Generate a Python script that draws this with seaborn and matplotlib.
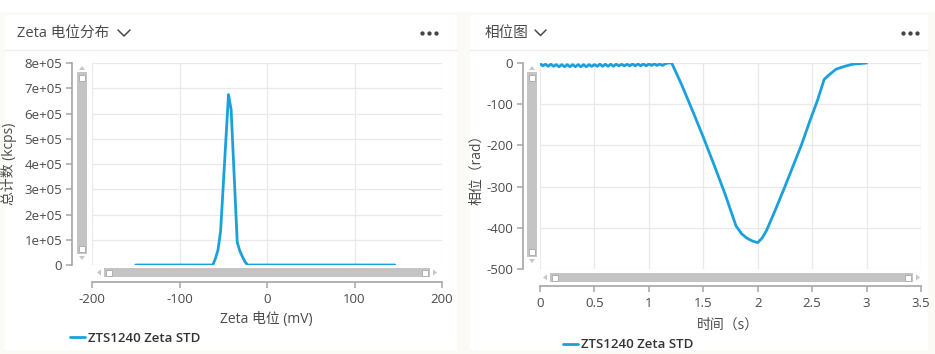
import matplotlib.pyplot as plt
import seaborn as sns
import matplotlib as mpl
from matplotlib.patches import Rectangle, Polygon
from matplotlib.lines import Line2D

# --- data ---
zeta_mv = [-150, -62, -59, -56, -53, -44, -41, -34, -31, -28, -25, -22, 146]
zeta_counts = [0, 0, 2.5e4, 6e4, 1.35e5, 6.75e5, 6.15e5, 9e4, 5.5e4, 3.2e4, 1.2e4, 0, 0]
zeta_xticks = [-200, -100, 0, 100, 200]
zeta_yticks = [0, 1e5, 2e5, 3e5, 4e5, 5e5, 6e5, 7e5, 8e5]
zeta_ylabels = ["0", "1e+05", "2e+05", "3e+05", "4e+05", "5e+05", "6e+05", "7e+05", "8e+05"]

phase_time = [0.0, 0.025, 0.05, 0.075, 0.1, 0.125, 0.15, 0.175, 0.2, 0.225,
              0.25, 0.275, 0.3, 0.325, 0.35, 0.375, 0.4, 0.425, 0.45, 0.475,
              0.5, 0.525, 0.55, 0.575, 0.6, 0.625, 0.65, 0.675, 0.7, 0.725,
              0.75, 0.775, 0.8, 0.825, 0.85, 0.875, 0.9, 0.925, 0.95, 0.975,
              1.0, 1.025, 1.05, 1.075, 1.1, 1.125, 1.15, 1.175, 1.21,
              1.3, 1.4, 1.5, 1.6, 1.7, 1.8, 1.85, 1.9, 1.95, 2.0,
              2.04, 2.08, 2.16, 2.25, 2.4, 2.48, 2.55, 2.61, 2.65, 2.72, 2.8, 2.87, 3.0]
phase_rad = [-1, -7, -3, -8, -3, -8, -4, -9, -4, -9, -4, -9, -4, -9, -4, -9,
             -4, -9, -4, -8, -4, -8, -3, -8, -3, -8, -3, -8, -3, -7, -3, -7,
             -3, -7, -2, -7, -2, -7, -2, -7, -2, -6, -2, -6, -2, -6, -2, 0, 0,
             -52, -115, -180, -248, -318, -395, -414, -425, -432, -436,
             -425, -407, -358, -300, -200, -140, -90, -40, -30, -15, -8, -3, 0]
phase_xticks = [0, 0.5, 1, 1.5, 2, 2.5, 3, 3.5]
phase_xlabels = ["0", "0.5", "1", "1.5", "2", "2.5", "3", "3.5"]
phase_yticks = [-500, -400, -300, -200, -100, 0]

series_name = "ZTS1240 Zeta STD"

W, H = 935, 354
BLUE = "#1aa1dc"
AXIS = "#a6a6a6"
TEXT = "#4a4a4a"


def fx(px):
    return px / W


def fy(py):
    return 1 - py / H


sns.set_theme(style="whitegrid")
mpl.rcParams.update({
    "font.family": ["Open Sans", "Noto Sans CJK SC", "DejaVu Sans"],
    "axes.unicode_minus": False,
    "axes.facecolor": "white",
    "grid.color": "#e9e9e9",
    "grid.linewidth": 0.9,
    "xtick.color": AXIS,
    "ytick.color": AXIS,
    "xtick.labelcolor": TEXT,
    "ytick.labelcolor": TEXT,
    "xtick.labelsize": 9.5,
    "ytick.labelsize": 9.5,
})

fig = plt.figure(figsize=(W / 100, H / 100), dpi=100, facecolor="#fbfaf5")


def rect_px(x0, y0, x1, y1, **kw):
    r = Rectangle((fx(x0), fy(y1)), (x1 - x0) / W, (y1 - y0) / H,
                  transform=fig.transFigure, **kw)
    fig.add_artist(r)


def tri_px(pts, color="#c6c6c6"):
    fig.add_artist(Polygon([(fx(x), fy(y)) for x, y in pts], closed=True,
                           transform=fig.transFigure, facecolor=color,
                           edgecolor="none"))


# white strip on top, cards + headers
rect_px(0, 0, W, 12, facecolor="white", edgecolor="none", zorder=-6)
for x0, x1 in [(5, 457), (470, 928)]:
    rect_px(x0, 15, x1, 350, facecolor="white", edgecolor="none", zorder=-5)
    fig.add_artist(Line2D([fx(x0), fx(x1)], [fy(50), fy(50)],
                          transform=fig.transFigure, color="#eeeeee", lw=1))

fig.text(fx(17), fy(33), "Zeta 电位分布", fontsize=10.5, color=TEXT, va="center")
fig.text(fx(485), fy(33), "相位图", fontsize=10.5, color=TEXT, va="center")
for pts in [[(118, 30), (124, 36), (130, 30)], [(535, 30), (540.5, 35.5), (546, 30)]]:
    fig.add_artist(Line2D([fx(p[0]) for p in pts], [fy(p[1]) for p in pts],
                          transform=fig.transFigure, color=TEXT, lw=1.1))
for xs in [[422, 429, 436], [903, 910, 917]]:
    fig.add_artist(Line2D([fx(x) for x in xs], [fy(33)] * 3, transform=fig.transFigure,
                          ls="none", marker="o", ms=2.1, color="#444444"))


# scrollbars
def vscroll(x0, x1, y0, y1):
    rect_px(x0, y0, x1, y1, facecolor="#c4c4c4", edgecolor="none")
    xm = (x0 + x1) / 2
    rect_px(xm - 3, y0 + 3, xm + 3, y0 + 9, facecolor="white", edgecolor="#a8a8a8", lw=0.6)
    rect_px(xm - 3, y1 - 8, xm + 3, y1 - 2, facecolor="white", edgecolor="#a8a8a8", lw=0.6)
    tri_px([(xm - 3, y0 - 2), (xm + 3, y0 - 2), (xm, y0 - 6)])
    tri_px([(xm - 3, y1 + 2), (xm + 3, y1 + 2), (xm, y1 + 6)])


def hscroll(x0, x1, y0, y1):
    rect_px(x0, y0, x1, y1, facecolor="#c4c4c4", edgecolor="none")
    ym = (y0 + y1) / 2
    rect_px(x0 + 2, ym - 3, x0 + 8, ym + 3, facecolor="white", edgecolor="#a8a8a8", lw=0.6)
    rect_px(x1 - 8, ym - 3, x1 - 2, ym + 3, facecolor="white", edgecolor="#a8a8a8", lw=0.6)
    tri_px([(x0 - 3, ym - 3), (x0 - 3, ym + 3), (x0 - 7, ym)])
    tri_px([(x1 + 3, ym - 3), (x1 + 3, ym + 3), (x1 + 7, ym)])


vscroll(77, 87, 72, 254)
hscroll(104, 430, 268, 277)
vscroll(527, 537, 72, 257)
hscroll(550, 913, 273, 282)

# axes
ax1 = fig.add_axes([fx(92), fy(265), (442 - 92) / W, (265 - 63) / H])
ax2 = fig.add_axes([fx(540), fy(269), (921 - 540) / W, (269 - 63) / H])

sns.lineplot(x=zeta_mv, y=zeta_counts, ax=ax1, color=BLUE, linewidth=2,
             estimator=None, label=series_name)
sns.lineplot(x=phase_time, y=phase_rad, ax=ax2, color=BLUE, linewidth=2,
             estimator=None, label=series_name)

ax1.set_xlim(-200, 200)
ax1.set_ylim(0, 8e5)
ax1.set_xticks(zeta_xticks)
ax1.set_xticklabels([str(v) for v in zeta_xticks])
ax1.set_yticks(zeta_yticks)
ax1.set_yticklabels(zeta_ylabels)

ax2.set_xlim(0, 3.5)
ax2.set_ylim(-500, 0)
ax2.set_xticks(phase_xticks)
ax2.set_xticklabels(phase_xlabels)
ax2.set_yticks(phase_yticks)
ax2.set_yticklabels([str(v) for v in phase_yticks])

for ax, left_off in [(ax1, 20), (ax2, 17)]:
    for s in ["top", "right"]:
        ax.spines[s].set_visible(False)
    for s in ["left", "bottom"]:
        ax.spines[s].set_visible(True)
        ax.spines[s].set_color(AXIS)
        ax.spines[s].set_linewidth(1.2)
    ax.spines["left"].set_position(("outward", left_off * 0.72))
    ax.spines["bottom"].set_position(("outward", 17 * 0.72))
    ax.tick_params(axis="both", which="major", direction="out", length=4,
                   width=1.1, pad=3, left=True, bottom=True)
    ax.tick_params(axis="x", pad=4)
    ax.grid(True)
    ax.set_axisbelow(True)

ax1.set_xlabel("Zeta 电位 (mV)", fontsize=10, color=TEXT)
ax1.set_ylabel("总计数 (kcps)", fontsize=10, color=TEXT)
ax2.set_xlabel("时间（s）", fontsize=10, color=TEXT)
ax2.set_ylabel("相位（rad）", fontsize=10, color=TEXT)
for ax, (lx, ly, yx) in [(ax1, ((266 - 92) / 350, (265 - 320) / 202, (9 - 92) / 350)),
                         (ax2, ((728 - 540) / 381, (269 - 325) / 206, (477 - 540) / 381))]:
    ax.xaxis.set_label_coords(lx, ly)
    ax.xaxis.label.set_va("center")
    ax.yaxis.set_label_coords(yx, 0.5)
    ax.yaxis.label.set_va("center")
    ax.yaxis.label.set_ha("center")

# legends below each panel
for ax, (lx, ly) in [(ax1, (70, 338)), (ax2, (563, 345))]:
    leg = ax.legend(loc="center left", bbox_to_anchor=(fx(lx), fy(ly)),
                    bbox_transform=fig.transFigure, frameon=False,
                    handlelength=1.1, handletextpad=0.3, borderpad=0,
                    borderaxespad=0, prop={"size": 9.5, "weight": "semibold"})
    for t in leg.get_texts():
        t.set_color("#333333")

fig.savefig("out.png", dpi=100, facecolor=fig.get_facecolor())
